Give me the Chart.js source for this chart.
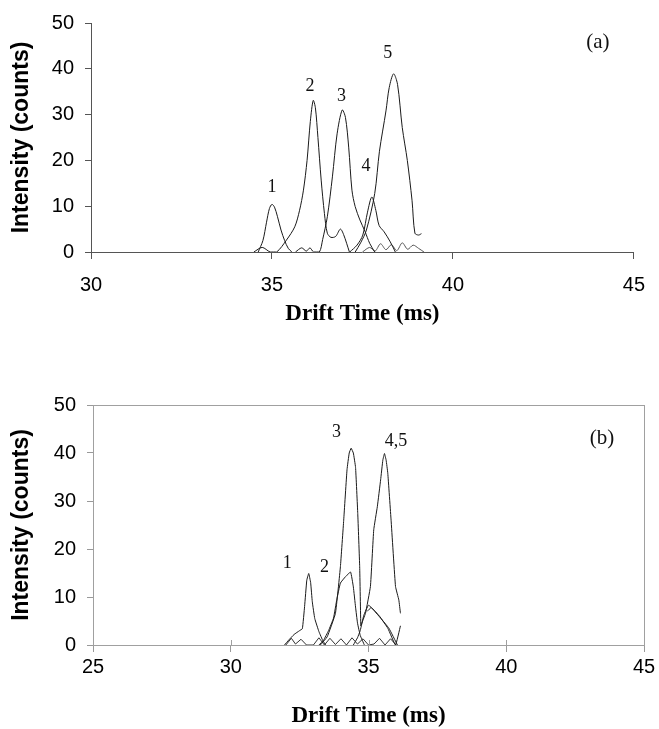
<!DOCTYPE html>
<html>
<head>
<meta charset="utf-8">
<script src="https://cdn.jsdelivr.net/npm/chart.js@4.4.1/dist/chart.umd.min.js"></script>
<style>
    html, body { margin: 0; padding: 0; background: #fff; }
    #wrap { position: relative; width: 659px; height: 729px; }
    canvas { position: absolute; left: 0; }
    #chart_a { top: 0; }
    #chart_b { top: 362px; }
</style>
</head>
<body>
<div id="wrap">
    <canvas id="chart_a" width="659" height="350"></canvas>
    <canvas id="chart_b" width="659" height="367"></canvas>
</div>
<script>
// (a) 各峰漂移时间 / 强度
var aTime1 = [34.62, 34.75, 34.85, 34.93, 35.0, 35.07, 35.15, 35.25, 35.35, 35.45, 35.55];
var aCount1 = [0, 2.5, 6.5, 9.5, 10.4, 9.8, 7.8, 4.8, 2.5, 0.8, 0];
var aTime2 = [34.5, 34.73, 34.95, 35.13, 35.4, 35.63, 35.76, 35.87, 35.97, 36.06, 36.14, 36.2, 36.27, 36.36, 36.45, 36.53, 36.63, 36.76, 36.89, 36.98, 37.14];
var aCount2 = [0, 1.0, 0, 0, 2.6, 5.5, 9.0, 13.5, 20.0, 28.5, 33.1, 31.5, 25.0, 15.7, 8.4, 4.1, 3.2, 3.4, 5.0, 3.8, 0];
var aTime3 = [35.65, 35.82, 35.95, 36.05, 36.15, 36.31, 36.4, 36.53, 36.67, 36.8, 36.94, 37.03, 37.12, 37.21, 37.3, 37.43, 37.57, 37.7, 37.84];
var aCount3 = [0, 0.9, 0.2, 0.9, 0, 0, 2.7, 7.7, 16.4, 25.8, 31.0, 29.4, 22.9, 13.5, 9.9, 7.0, 4.5, 1.9, 0];
var aTime4 = [37.15, 37.35, 37.51, 37.64, 37.76, 37.87, 37.96, 38.1, 38.27, 38.41];
var aCount4 = [0, 1.5, 3.7, 8.7, 12.0, 9.1, 5.8, 4.4, 2.2, 0];
var aTime5 = [37.3, 37.45, 37.61, 37.84, 37.97, 38.15, 38.24, 38.36, 38.47, 38.6, 38.74, 38.87, 38.95, 39.05, 39.13];
var aCount5 = [0, 2.0, 4.8, 12.8, 22.0, 30.8, 35.9, 38.9, 36.6, 27.2, 20.0, 11.3, 4.1, 3.7, 4.0];
var aTime6 = [37.5, 37.7, 37.85, 38.0, 38.15, 38.3, 38.45, 38.6, 38.75, 38.9, 39.05, 39.2];
var aCount6 = [0, 1.0, 0.2, 1.8, 0.5, 1.6, 0.3, 2.0, 0.6, 1.5, 0.8, 0];

var aPeakText = ['1', '2', '3', '4', '5'];
var aPeakTime = [35.0, 36.05, 36.92, 37.6, 38.2];
var aPeakCount = [14.1, 36.1, 34.0, 18.8, 43.3];

// (b)
var bTime1 = [31.95, 32.1, 32.3, 32.5, 32.6, 32.68, 32.76, 32.83, 32.9, 32.96, 33.05, 33.2, 33.35, 33.45];
var bCount1 = [0, 1.0, 2.2, 3.0, 3.4, 8.0, 13.5, 14.9, 13.0, 9.0, 5.5, 2.8, 0.8, 0];
var bTime2 = [33.2, 33.37, 33.55, 33.73, 33.85, 33.98, 34.16, 34.35, 34.45, 34.53, 34.6, 34.7, 34.85];
var bCount2 = [0, 1.0, 3.0, 5.6, 9.5, 12.9, 14.2, 15.2, 12.1, 7.9, 4.6, 2.0, 0];
var bTime3 = [33.25, 33.5, 33.8, 33.98, 34.1, 34.22, 34.3, 34.37, 34.45, 34.53, 34.61, 34.68, 34.72];
var bCount3 = [0, 1.7, 6.6, 16.3, 26.0, 36.5, 40.0, 41.0, 40.0, 37.0, 27.4, 16.3, 4.0];
var bTime4 = [34.72, 34.89, 35.07, 35.19, 35.32, 35.44, 35.52, 35.58, 35.64, 35.7, 35.82, 35.98, 36.1, 36.16];
var bCount4 = [4.0, 6.6, 12.2, 24.0, 28.8, 34.4, 38.5, 39.9, 38.5, 35.8, 26.0, 12.2, 9.4, 6.6];
var bTime5 = [34.45, 34.6, 34.7, 34.83, 35.0, 35.2, 35.44, 35.74, 36.05];
var bCount5 = [0, 1.5, 3.0, 6.2, 8.3, 7.2, 5.6, 3.5, 0];
var bTime6 = [34.95, 35.1, 35.4, 35.7, 35.98, 36.16];
var bCount6 = [7.0, 7.8, 6.0, 3.5, 0, 4.0];
var bTime7 = [32.0, 32.2, 32.35, 32.55, 32.75, 33.0, 33.2, 33.4, 33.6, 33.8, 34.0, 34.2, 34.4, 34.6, 34.8, 35.0, 35.2, 35.4, 35.6, 35.8, 36.0];
var bCount7 = [0, 1.4, 0.2, 1.2, 0, 0, 1.5, 0, 1.4, 0.1, 1.3, 0, 1.5, 0.2, 1.3, 0, 0.2, 1.4, 0, 1.3, 0];

var bPeakText = ['1', '2', '3', '4,5'];
var bPeakTime = [32.05, 33.4, 33.84, 36.0];
var bPeakCount = [17.1, 16.25, 44.4, 42.5];

var intensityTicks = [0, 10, 20, 30, 40, 50];

function pts(ts, vs) {
    return ts.map(function (t, i) {
        return { x: t, y: vs[i] };
    });
}

function lineSet(ts, vs, tension, color) {
    return {
        data: pts(ts, vs),
        borderColor: color || '#1a1a1a',
        borderWidth: 1,
        pointRadius: 0,
        tension: tension,
        fill: false
    };
}

// 峰号、(a)/(b) 标注和外框
var peakLabelPlugin = {
    id: 'peakLabel',
    afterDatasetsDraw: function (chart, args, opts) {
        var ctx = chart.ctx;
        var xs = chart.scales.x, ys = chart.scales.y;
        var area = chart.chartArea;
        ctx.save();
        if (opts.frame) {
            ctx.strokeStyle = '#a0a0a0';
            ctx.lineWidth = 1;
            ctx.strokeRect(area.left + 0.5, area.top + 0.5, area.right - area.left, area.bottom - area.top);
            // 内侧短刻度
            ctx.beginPath();
            xs.ticks.forEach(function (t) {
                var px = Math.round(xs.getPixelForValue(t.value)) + 0.5;
                ctx.moveTo(px, area.bottom);
                ctx.lineTo(px, area.bottom - 5);
            });
            ctx.stroke();
        }
        ctx.fillStyle = '#111';
        ctx.textAlign = 'center';
        ctx.textBaseline = 'middle';
        ctx.font = '18px "Liberation Serif", "Times New Roman", serif';
        opts.text.forEach(function (s, i) {
            ctx.fillText(s, xs.getPixelForValue(opts.time[i]), ys.getPixelForValue(opts.count[i]));
        });
        ctx.font = '21px "Liberation Serif", "Times New Roman", serif';
        ctx.fillText(opts.tag, area.right - opts.tagX, opts.tagY);
        ctx.restore();
    }
};

function makeOptions(c) {
    return {
        responsive: false,
        animation: false,
        layout: { padding: { top: c.top, right: c.right, left: 0, bottom: 0 } },
        plugins: {
            legend: { display: false },
            tooltip: { enabled: false },
            peakLabel: c.labels
        },
        scales: {
            x: {
                type: 'linear',
                min: c.xMin,
                max: c.xMax,
                afterFit: function (scale) { scale.height = c.xHeight; },
                afterBuildTicks: function (scale) {
                    scale.ticks = c.xTicks.map(function (v) { return { value: v }; });
                },
                border: { color: c.axisColor, width: 1 },
                grid: { drawOnChartArea: false, color: c.axisColor, tickLength: 7 },
                ticks: {
                    padding: c.xPad,
                    color: '#000',
                    font: { family: '"Liberation Sans", Arial, sans-serif', size: 20 }
                },
                title: {
                    display: true,
                    text: 'Drift Time (ms)',
                    color: '#000',
                    padding: { top: 0, bottom: c.titlePad },
                    font: { family: '"Liberation Serif", "Times New Roman", serif', size: 23, weight: 'bold', lineHeight: 1 }
                }
            },
            y: {
                min: 0,
                max: 50,
                afterFit: function (scale) { scale.width = c.yWidth; },
                afterBuildTicks: function (scale) {
                    scale.ticks = intensityTicks.map(function (v) { return { value: v }; });
                },
                border: { color: c.axisColor, width: 1 },
                grid: { drawOnChartArea: false, color: c.axisColor, tickLength: 6 },
                ticks: {
                    padding: 11,
                    color: '#000',
                    font: { family: '"Liberation Sans", Arial, sans-serif', size: 20 }
                },
                title: {
                    display: true,
                    text: 'Intensity (counts)',
                    color: '#000',
                    padding: { top: 10, bottom: 0 },
                    font: { family: '"Liberation Sans", Arial, sans-serif', size: 23, weight: 'bold', lineHeight: 1 }
                }
            }
        }
    };
}

var chartA = new Chart(document.getElementById('chart_a').getContext('2d'), {
    type: 'line',
    data: {
        datasets: [
            lineSet(aTime1, aCount1, 0.3),
            lineSet(aTime2, aCount2, 0.3),
            lineSet(aTime3, aCount3, 0.3),
            lineSet(aTime4, aCount4, 0.3),
            lineSet(aTime5, aCount5, 0.3),
            lineSet(aTime6, aCount6, 0.3, '#555')
        ]
    },
    options: makeOptions({
        top: 21, right: 13, yWidth: 91, xHeight: 98,
        xMin: 30, xMax: 45, xTicks: [30, 35, 40, 45],
        xPad: 14, titlePad: 24, axisColor: '#555',
        labels: { text: aPeakText, time: aPeakTime, count: aPeakCount, tag: '(a)', tagX: 36, tagY: 42, frame: false }
    }),
    plugins: [peakLabelPlugin]
});

var chartB = new Chart(document.getElementById('chart_b').getContext('2d'), {
    type: 'line',
    data: {
        datasets: [
            lineSet(bTime1, bCount1, 0.1),
            lineSet(bTime2, bCount2, 0.1),
            lineSet(bTime3, bCount3, 0.1),
            lineSet(bTime4, bCount4, 0.1),
            lineSet(bTime5, bCount5, 0.1),
            lineSet(bTime6, bCount6, 0.1),
            lineSet(bTime7, bCount7, 0, '#333')
        ]
    },
    options: makeOptions({
        top: 43, right: 15, yWidth: 93, xHeight: 84,
        xMin: 25, xMax: 45, xTicks: [25, 30, 35, 40, 45],
        xPad: 3, titlePad: 1, axisColor: '#999',
        labels: { text: bPeakText, time: bPeakTime, count: bPeakCount, tag: '(b)', tagX: 42, tagY: 76, frame: true }
    }),
    plugins: [peakLabelPlugin]
});
</script>
</body>
</html>
